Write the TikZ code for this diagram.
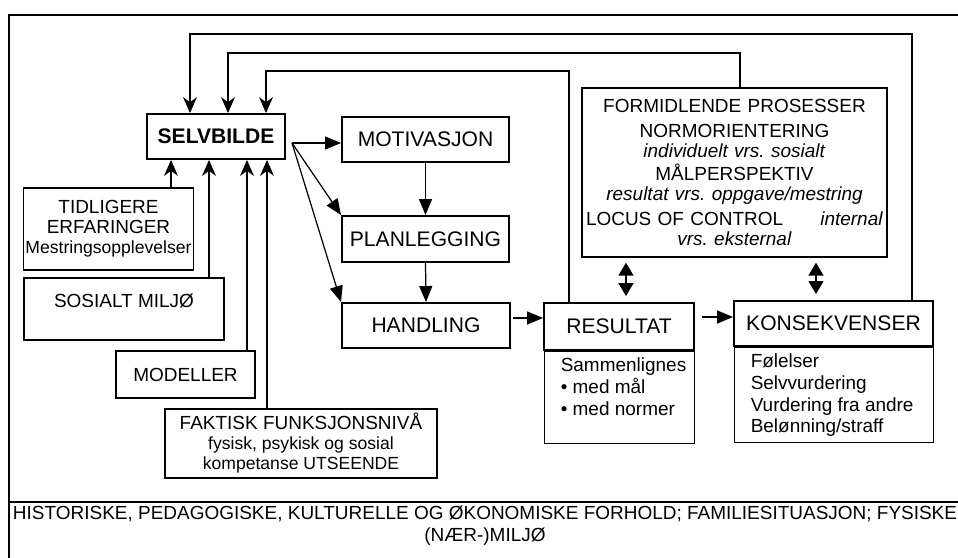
\documentclass[tikz,border=0pt]{standalone}
\usepackage{fontspec}
\setmainfont{Liberation Sans}
\usetikzlibrary{calc,arrows.meta,positioning}
\frenchspacing

\tikzset{
	box/.style={draw, line width=0.8pt, align=center, inner sep=1pt},
	mainbox/.style={box, line width=1.1pt, font=\fontsize{12}{14}\selectfont},
	subbox/.style={draw, line width=0.5pt},
	arr/.style={line width=0.7pt, -{Triangle[length=3.2mm,width=2.6mm]}},
	upArr/.style={line width=0.7pt, -{Stealth[length=3.2mm,width=2.8mm]}},
	both/.style={line width=0.8pt, {Triangle[length=2.6mm,width=3mm]}-{Triangle[length=2.6mm,width=3mm]}},
}

\begin{document}
\begin{tikzpicture}[x=0.02cm, y=-0.02cm, font=\fontsize{10.8}{11.4}\selectfont]
	\useasboundingbox (0,0) rectangle (958,558);
	\clip (0,0) rectangle (958,558);
	% frame
	\draw[line width=0.7pt] (9,600) -- (9,15) -- (1000,15);
	\draw[line width=0.7pt] (9,502) -- (1000,502);
	
	% left column
	\node[mainbox, font=\fontsize{12}{14}\selectfont\bfseries, minimum width=2.76cm, minimum height=0.9cm] (selv) at (216,136.5) {SELVBILDE};
	\node[box, minimum width=3.38cm, minimum height=1.64cm] (tidl) at (108.5,229) {TIDLIGERE\\ERFARINGER\\{\fontsize{10}{11}\selectfont Mestringsopplevelser}};
	\node[box, minimum width=4cm, minimum height=1.24cm, text depth=0.35cm] (sos) at (124,309) {SOSIALT MILJØ};
	\node[box, minimum width=2.78cm, minimum height=0.94cm] (model) at (185.5,374.5) {MODELLER};
	\node[box, minimum width=5.44cm, minimum height=1.38cm] (fakt) at (301,443.5) {FAKTISK FUNKSJONSNIVÅ\\{\fontsize{10}{11}\selectfont fysisk, psykisk og sosial}\\{\fontsize{10}{11}\selectfont kompetanse UTSEENDE}};
	
	% middle column
	\node[mainbox, minimum width=3.34cm, minimum height=0.9cm] (motiv) at (425.5,139.5) {MOTIVASJON};
	\node[mainbox, minimum width=3.34cm, minimum height=0.92cm] (plan) at (425.5,239) {PLANLEGGING};
	\node[mainbox, minimum width=3.36cm, minimum height=0.9cm] (hand) at (426,325.5) {HANDLING};
	
	% right part
	\node[mainbox, minimum width=3cm, minimum height=0.94cm] (res) at (619,326.5) {RESULTAT};
	\node[subbox, below=0pt of res, minimum width=3cm, minimum height=1.84cm] (ressub) {};
	\node[anchor=north west, align=left, font=\fontsize{10.8}{12.5}\selectfont] (restext) at ($(ressub.north west)+(11,1)$) {Sammenlignes\\\textbullet\ med mål\\\textbullet\ med normer};
	\node[mainbox, minimum width=3.98cm, minimum height=0.9cm] (kons) at (833.5,323.5) {KONSEKVENSER};
	\node[subbox, below=0pt of kons, minimum width=3.98cm, minimum height=1.9cm] (konssub) {};
	\node[anchor=north west, align=left, font=\fontsize{10.8}{12.3}\selectfont] (konstext) at ($(konssub.north west)+(11,1)$) {Følelser\\Selvvurdering\\Vurdering fra andre\\Belønning/straff};
	
	\node[box, text width=5.94cm, inner xsep=0.08cm, minimum height=3.38cm] (form) at (734.5,172.5) {FORMIDLENDE PROSESSER\\[2.8pt]
		NORMORIENTERING\\
		\textit{individuelt vrs. sosialt}\\[1.7pt]
		MÅLPERSPEKTIV\\
		\textit{resultat vrs. oppgave/mestring}\\[2.8pt]
		\makebox[5.94cm]{LOCUS OF CONTROL\hfill\textit{internal}}\\
		\textit{vrs. eksternal}};
	
	% bottom text
	\node[align=center, font=\fontsize{10.8}{12.5}\selectfont] (env) at (485,526) {HISTORISKE, PEDAGOGISKE, KULTURELLE OG ØKONOMISKE FORHOLD; FAMILIESITUASJON; FYSISKE\\(NÆR-)MILJØ};
	
	% arrows out of SELVBILDE
	\coordinate (s0) at (292,143);
	\draw[arr] (s0) -- (s0 -| motiv.west);
	\draw[arr] (s0) -- (plan.north west);
	\draw[arr] (s0) -- (hand.north west);
	\draw[arr] (motiv.south) -- (plan.north);
	\draw[arr] (plan.south) -- (hand.north);
	\coordinate (h0) at (513,318);
	\draw[arr] (h0) -- (h0 -| res.west);
	\coordinate (r0) at (702,317);
	\draw[arr] (r0) -- (r0 -| kons.west);
	
	% feedback lines
	\foreach \i/\xl/\xr/\y/\n in {1/190/912/34/kons, 2/228/740/53/form, 3/266/569/71/res} {
		\coordinate (tl\i) at (\xl,\y);
		\coordinate (tr\i) at (\xr,\y);
		\draw[upArr] (\n.north -| tr\i) -- (tr\i) -- (tl\i) -- (selv.north -| tl\i);
	}
	
	% influences into SELVBILDE
	\foreach \n/\x in {tidl/171, sos/209, model/247, fakt/267} {
		\coordinate (b\n) at (\x,0);
		\draw[upArr] (\n.north -| b\n) -- (selv.south -| b\n);
	}
	
	% two-way arrows
	\foreach \n/\x in {res/626, kons/816} {
		\coordinate (d\n) at (\x,0);
		\draw[both] ($(form.south -| d\n)+(0,5)$) -- ($(\n.north -| d\n)+(0,-6)$);
	}
\end{tikzpicture}
\end{document}
